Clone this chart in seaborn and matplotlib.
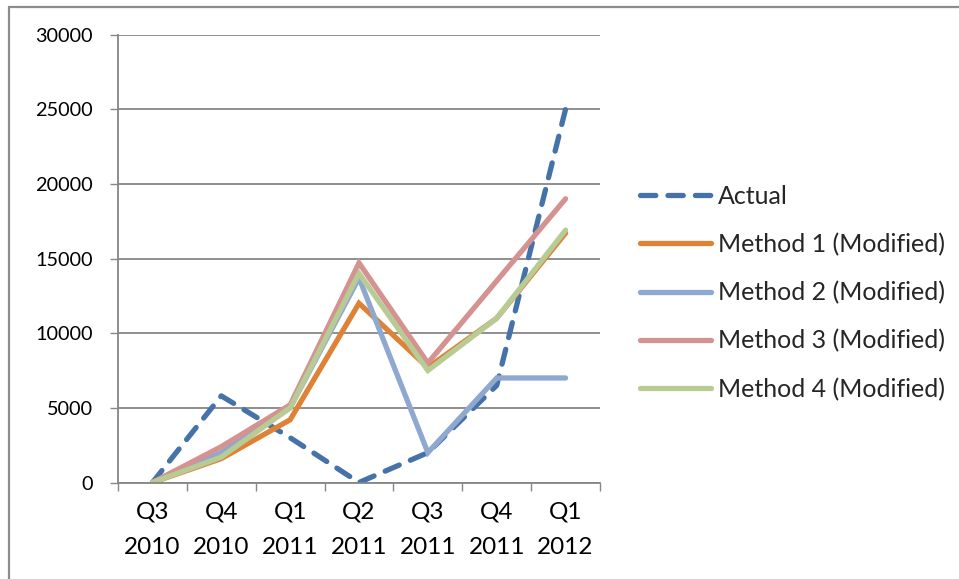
import matplotlib
matplotlib.use("Agg")
import matplotlib.pyplot as plt
from matplotlib.lines import Line2D
import seaborn as sns
import pandas as pd

quarters = ["Q3\n2010", "Q4\n2010", "Q1\n2011", "Q2\n2011", "Q3\n2011", "Q4\n2011", "Q1\n2012"]
actual = [0, 5800, 3000, 0, 2000, 6500, 25000]
method1 = [0, 1600, 4200, 12000, 7700, 11000, 16700]
method2 = [0, 2000, 5000, 13700, 2000, 7000, 7000]
method3 = [0, 2400, 5200, 14700, 8000, 13500, 19000]
method4 = [0, 1700, 5000, 14000, 7500, 11000, 16900]
series_names = ["Actual", "Method 1 (Modified)", "Method 2 (Modified)",
                "Method 3 (Modified)", "Method 4 (Modified)"]
y_ticks = [0, 5000, 10000, 15000, 20000, 25000, 30000]

colors = ["#4672AA", "#DE8237", "#8FA8CF", "#D49290", "#B7CC94"]

sns.set_style("white")
plt.rcParams["font.family"] = ["Lato", "DejaVu Sans"]

frames = []
for name, vals in zip(series_names, [actual, method1, method2, method3, method4]):
    frames.append(pd.DataFrame({"quarter": quarters, "value": vals, "series": name}))
df = pd.concat(frames, ignore_index=True)

W, H = 959, 579
fig = plt.figure(figsize=(W / 100, H / 100), dpi=100)
ax = fig.add_axes([118 / W, 1 - 482.5 / H, (600 - 118) / W, (482.5 - 34.5) / H])

dash_map = {name: "" for name in series_names}
dash_map["Actual"] = (2.9, 2.3)
sns.lineplot(data=df, x="quarter", y="value", hue="series", style="series",
             hue_order=series_names, style_order=series_names,
             palette=colors, dashes=dash_map, sort=False, linewidth=3.8,
             legend=False, ax=ax)

for ln in ax.get_lines():
    ln.set_dash_capstyle("round")
    ln.set_solid_capstyle("round")
    ln.set_solid_joinstyle("miter")

grid_col = "#868686"
ax.set_xlim(-0.5, len(quarters) - 0.5)
ax.set_ylim(0, 30000)
ax.set_yticks(y_ticks)
ax.set_yticklabels([str(v) for v in y_ticks])
ax.set_xticks(range(len(quarters)))
ax.set_xticklabels(quarters, linespacing=1.85)
ax.set_xticks([i - 0.5 for i in range(len(quarters) + 1)], minor=True)
ax.set_xlabel("")
ax.set_ylabel("")

ax.yaxis.grid(True, color=grid_col, linewidth=1.3)
ax.xaxis.grid(False)
ax.set_axisbelow(True)
for side in ["top", "right"]:
    ax.spines[side].set_visible(False)
for side in ["left", "bottom"]:
    ax.spines[side].set_color(grid_col)
    ax.spines[side].set_linewidth(1.3)

ax.tick_params(axis="y", which="major", direction="out", length=6, width=1,
               color=grid_col, pad=12, labelsize=14.3, labelcolor="black", left=True)
ax.tick_params(axis="x", which="major", length=0, pad=14, labelsize=17.5, labelcolor="black")
ax.tick_params(axis="x", which="minor", direction="out", length=6, width=1,
               color=grid_col, bottom=True)

handles = []
for name, c in zip(series_names, colors):
    if name == "Actual":
        h = Line2D([], [], color=c, linewidth=3.8, dashes=(2.9, 2.3),
                   dash_capstyle="round")
    else:
        h = Line2D([], [], color=c, linewidth=3.8, solid_capstyle="round")
    handles.append(h)
fig.legend(handles, series_names, loc="center left",
           bbox_to_anchor=(640 / W, 1 - 293 / H), frameon=False,
           fontsize=18, handlelength=2.85, handletextpad=0.28,
           labelspacing=1.0, borderpad=0, borderaxespad=0)

# outer chart frame
border_col = "#8C8C8C"
fig.add_artist(Line2D([8.5 / W, 8.5 / W], [0, 1 - 6.5 / H], transform=fig.transFigure,
                      color=border_col, linewidth=1.6))
fig.add_artist(Line2D([8.5 / W, 1], [1 - 6.5 / H, 1 - 6.5 / H], transform=fig.transFigure,
                      color=border_col, linewidth=1.6))

fig.savefig("out.png", dpi=100, facecolor="white")
